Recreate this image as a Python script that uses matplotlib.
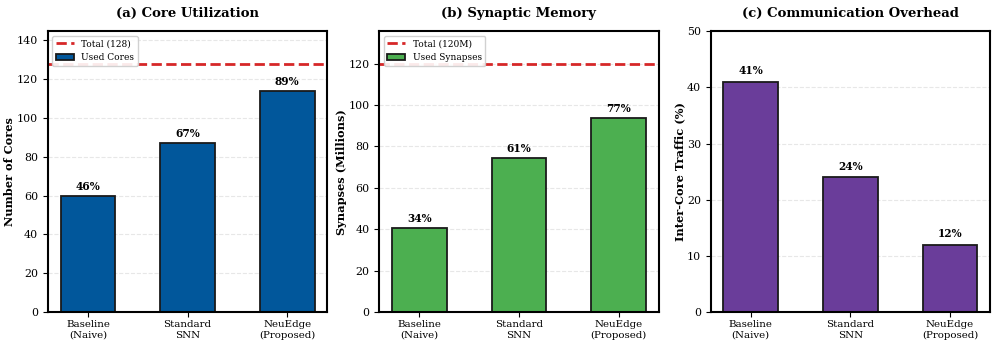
import matplotlib
matplotlib.use("Agg")
import matplotlib.pyplot as plt
import numpy as np

plt.rcParams['font.family'] = 'DejaVu Serif'

methods = ['Baseline\n(Naive)', 'Standard\nSNN', 'NeuEdge\n(Proposed)']

cores_used = [60, 87, 114]
cores_total = 128
cores_pct = ['46%', '67%', '89%']

syn_used = [40.7, 74.2, 93.6]
syn_total = 120
syn_pct = ['34%', '61%', '77%']

traffic = [41, 24, 12]
traffic_pct = ['41%', '24%', '12%']

fig, axes = plt.subplots(1, 3, figsize=(9.97, 3.48), dpi=100)
x = np.arange(len(methods))
w = 0.55

def bar_panel(ax, vals, labels, color, title, ylabel, total=None, total_label=None,
              bar_label=None, ylim=None, off=2.0):
    if total is not None:
        ax.axhline(total, color='#d62728', ls='--', lw=2, label=total_label)
    bars = ax.bar(x, vals, w, color=color, edgecolor='#1a1a1a', linewidth=1.3,
                  label=bar_label)
    for b, t in zip(bars, labels):
        ax.text(b.get_x() + b.get_width() / 2, b.get_height() + off, t,
                ha='center', va='bottom', fontsize=7.6, fontweight='bold')
    ax.set_xticks(x)
    ax.set_xticklabels(methods, fontsize=7.4, linespacing=1.15)
    ax.tick_params(axis='y', labelsize=7.9)
    ax.tick_params(axis='x', pad=2.5)
    ax.set_ylabel(ylabel, fontsize=8.2, fontweight='bold', labelpad=1)
    ax.set_title(title, fontsize=9.5, fontweight='bold', pad=10)
    ax.set_ylim(*ylim)
    ax.yaxis.grid(True, ls='--', alpha=0.3)
    ax.set_axisbelow(True)
    for s in ax.spines.values():
        s.set_linewidth(1.5)
    if total is not None:
        ax.legend(loc='upper left', fontsize=6.5, framealpha=0.9)

bar_panel(axes[0], cores_used, cores_pct, '#01579b', '(a) Core Utilization',
          'Number of Cores', cores_total, 'Total (128)', 'Used Cores',
          (0, cores_total * 1.13), off=2.0)
bar_panel(axes[1], syn_used, syn_pct, '#4caf50', '(b) Synaptic Memory',
          'Synapses (Millions)', syn_total, 'Total (120M)', 'Used Synapses',
          (0, syn_total * 1.13), off=2.0)
axes[1].set_yticks(np.arange(0, 121, 20))
bar_panel(axes[2], traffic, traffic_pct, '#6a3d9a', '(c) Communication Overhead',
          'Inter-Core Traffic (%)', ylim=(0, 50), off=1.0)

plt.subplots_adjust(left=0.048, right=0.993, bottom=0.103, top=0.91, wspace=0.186)
plt.savefig('out.png', dpi=100)
